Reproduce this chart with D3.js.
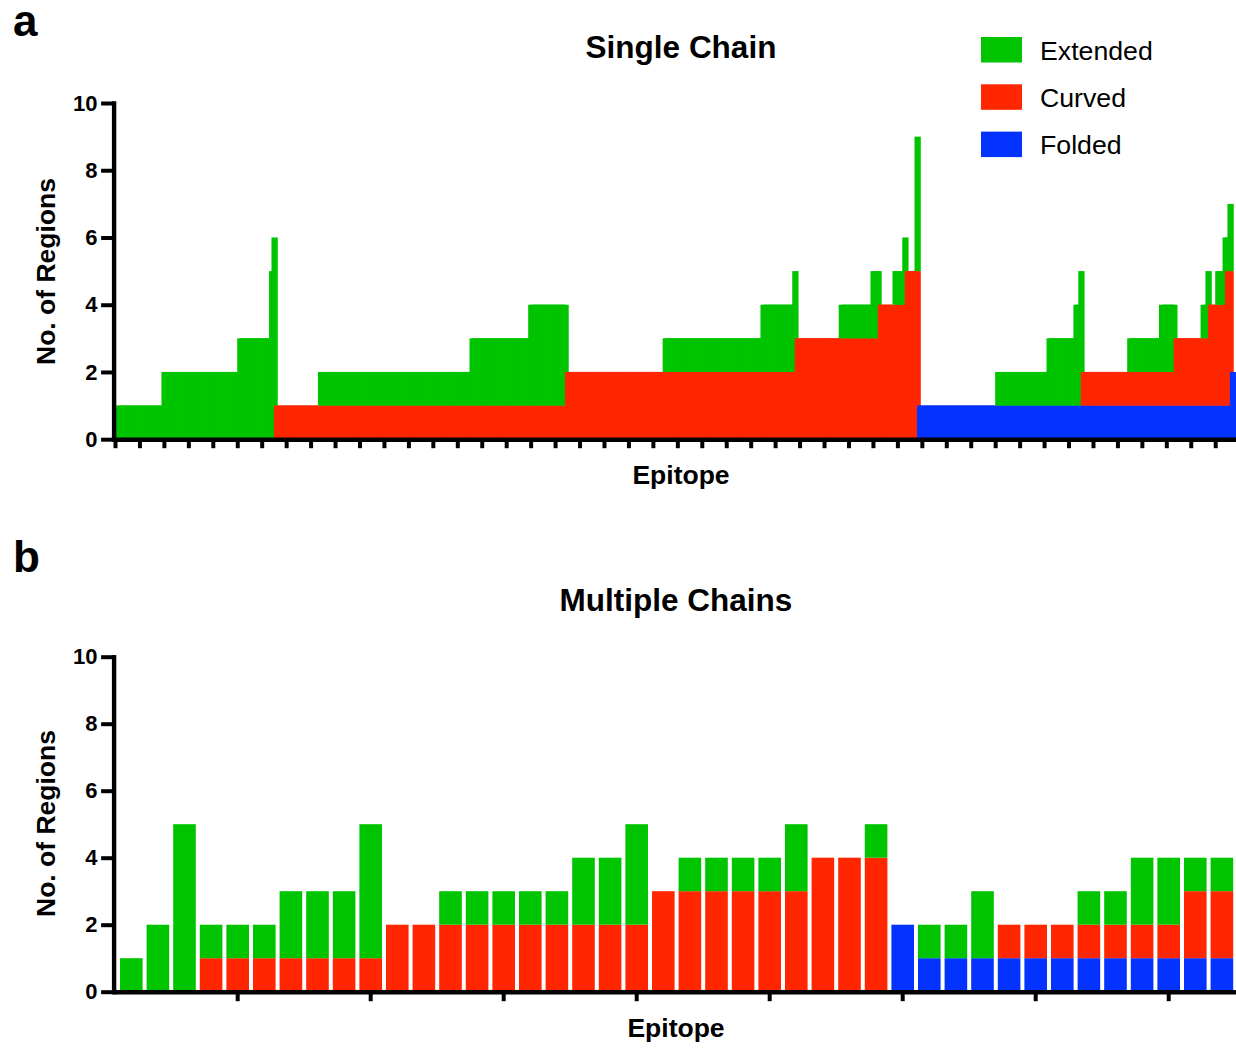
<!DOCTYPE html>
<html>
<head>
<meta charset="utf-8">
<script src="https://cdn.jsdelivr.net/npm/d3@7"></script>
<style>
  html, body { margin: 0; padding: 0; background: #fff; }
  svg { display: block; }
  text { font-family: "Liberation Sans", Arial, Helvetica, sans-serif; fill: #000; }
</style>
</head>
<body>
<svg id="fig" width="1236" height="1048"></svg>
<script>
// ---- Data -------------------------------------------------------------
// Single chain epitopes, sorted; consecutive epitopes sharing the same
// composition are stored as runs (count of epitopes per composition).
const runFolded   = [0,0,0,0,0, 0,0,0,0, 0,0,0,0, 0,0,0, 0,0,0, 0,0, 1,1,1,1,1, 1,1,1, 1,1,1, 1,1,1, 1,1, 2];
const runCurved   = [0,0,0,0,0, 1,1,1,1, 2,2,2,2, 3,3,3, 4,4,4, 5,5, 0,0,0,0,0, 1,1,1, 2,2,2, 3,3,3, 4,4, 0];
const runExtended = [1,2,3,5,6, 0,1,2,3, 0,1,2,3, 0,1,2, 0,1,2, 0,4, 0,1,2,3,4, 0,1,2, 0,1,2, 0,1,2, 1,2, 0];
const runCount    = [19,31,13,1,1, 18,62,24,15, 40,40,13,1, 18,13,3, 6,4,1, 4,1, 32,21,11,2,1, 19,13,6, 11,2,1, 3,3,1, 1,1, 1];

// Multiple chain epitopes, one entry per epitope.
const multiFolded   = [0,0,0,0,0,0,0,0,0,0, 0,0,0,0,0,0,0,0,0,0, 0,0,0,0,0,0,0,0,0, 2,1,1,1,1,1,1,1,1,1,1,1,1];
const multiCurved   = [0,0,0,1,1,1,1,1,1,1, 2,2,2,2,2,2,2,2,2,2, 3,3,3,3,3,3,4,4,4, 0,0,0,0,1,1,1,1,1,1,1,2,2];
const multiExtended = [1,2,5,1,1,1,2,2,2,4, 0,0,1,1,1,1,1,2,2,3, 0,1,1,1,1,2,0,0,1, 0,1,1,2,0,0,0,1,1,2,2,1,1];

const yTicks = [0, 2, 4, 6, 8, 10];
const seriesKeys = ["folded", "curved", "extended"];
const legendKeys = ["extended", "curved", "folded"];
const legendLabels = ["Extended", "Curved", "Folded"];
const colors = { extended: "#00c400", curved: "#ff2600", folded: "#0433ff" };

// ---- Records -----------------------------------------------------------
const singleBars = [];
runCount.forEach((n, r) => {
  for (let k = 0; k < n; k++) {
    singleBars.push({ folded: runFolded[r], curved: runCurved[r], extended: runExtended[r] });
  }
});
const multiBars = multiFolded.map((f, i) => ({
  id: i + 1, folded: f, curved: multiCurved[i], extended: multiExtended[i]
}));

const stack = d3.stack().keys(seriesKeys);

function segmentsByBar(records) {
  const series = stack(records);
  return records.map((d, i) => ({
    i, d,
    segs: series.map(s => ({ key: s.key, y0: s[i][0], y1: s[i][1] })).filter(s => s.y1 > s.y0)
  }));
}

// ---- Drawing -----------------------------------------------------------
const svg = d3.select("#fig");
svg.append("rect").attr("width", 1236).attr("height", 1048).attr("fill", "#fff");

const AXIS_W = 4.4;
const AXIS_X = 113.6;

function styleAxis(g) {
  g.selectAll(".domain").attr("stroke", "#000").attr("stroke-width", AXIS_W).attr("stroke-linecap", "square");
  g.selectAll(".tick line").attr("stroke", "#000").attr("stroke-width", 4);
}

function yAxis(y) {
  const g = svg.append("g").attr("transform", `translate(${AXIS_X},0)`)
    .call(d3.axisLeft(y).tickValues(yTicks).tickSize(12.5).tickSizeOuter(0).tickPadding(3.5));
  styleAxis(g);
  g.selectAll(".tick text")
    .style("font-family", "'Liberation Sans', Arial, sans-serif")
    .style("font-weight", "bold").style("font-size", "22px").attr("fill", "#000");
  return g;
}

function label(text, x, y, size, weight, anchor, rotate) {
  const t = svg.append("text").text(text)
    .attr("font-size", size).attr("font-weight", weight)
    .attr("text-anchor", anchor || "start");
  if (rotate) t.attr("transform", `translate(${x},${y}) rotate(-90)`);
  else t.attr("x", x).attr("y", y);
  return t;
}

// Panel a: Single Chain
{
  const N = singleBars.length;
  const x = d3.scaleLinear().domain([0, N + 1.5]).range([115, 1236]);
  const y = d3.scaleLinear().domain([0, 10]).range([439.2, 103]);
  const drawW = 6.3;

  const bars = svg.append("g").selectAll("g")
    .data(segmentsByBar(singleBars)).join("g");
  bars.selectAll("rect").data(b => b.segs.map(s => ({ ...s, i: b.i }))).join("rect")
    .attr("x", s => x(s.i))
    .attr("width", drawW)
    .attr("y", s => y(s.y1))
    .attr("height", s => y(s.y0) - y(s.y1))
    .attr("fill", s => colors[s.key]);

  const gx = svg.append("g").attr("transform", `translate(0,${y(0)})`)
    .call(d3.axisBottom(x).tickValues(d3.range(0, N, 10)).tickFormat("").tickSize(9).tickSizeOuter(0));
  styleAxis(gx);
  yAxis(y);

  label("a", 13, 36, 44, "bold");
  label("Single Chain", 681, 58, 31.5, "bold", "middle");
  label("Epitope", 681, 484, 26.5, "bold", "middle");
  label("No. of Regions", 55, 271.5, 26.5, "bold", "middle", true);

  // legend
  const lg = svg.append("g").selectAll("g").data(legendKeys).join("g")
    .attr("transform", (k, i) => `translate(981,${37 + i * 47.3})`);
  lg.append("rect").attr("width", 41).attr("height", 25.5).attr("fill", k => colors[k]);
  lg.append("text").attr("x", 59).attr("y", 22.5)
    .attr("font-size", 26.7)
    .text((k, i) => legendLabels[i]);
}

// Panel b: Multiple Chains
{
  const x = d3.scaleBand().domain(multiBars.map(d => d.id))
    .range([116, 116 + 26.6 * 42.15]).paddingInner(0.15).paddingOuter(0.15);
  const y = d3.scaleLinear().domain([0, 10]).range([991.7, 656.7]);

  const bars = svg.append("g").selectAll("g")
    .data(segmentsByBar(multiBars)).join("g");
  bars.selectAll("rect").data(b => b.segs.map(s => ({ ...s, id: b.d.id }))).join("rect")
    .attr("x", s => x(s.id))
    .attr("width", x.bandwidth())
    .attr("y", s => y(s.y1))
    .attr("height", s => y(s.y0) - y(s.y1))
    .attr("fill", s => colors[s.key]);

  const gx = svg.append("g").attr("transform", `translate(0,${y(0)})`)
    .call(d3.axisBottom(x).tickValues(d3.range(5, 41, 5)).tickFormat("").tickSize(9.5).tickSizeOuter(0));
  styleAxis(gx);
  yAxis(y);

  label("b", 13, 572, 44, "bold");
  label("Multiple Chains", 676, 611, 31.5, "bold", "middle");
  label("Epitope", 676, 1037, 26.5, "bold", "middle");
  label("No. of Regions", 55, 823.5, 26.5, "bold", "middle", true);
}
</script>
</body>
</html>
